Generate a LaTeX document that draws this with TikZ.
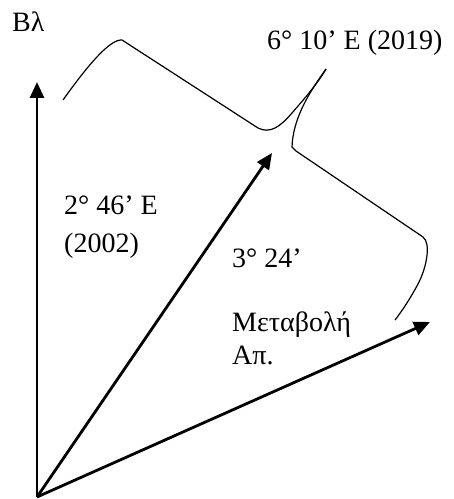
\documentclass[tikz,border=0pt]{standalone}
\usepackage{fontspec}
\setmainfont{Liberation Serif}
\usetikzlibrary{arrows.meta}

\begin{document}
\begin{tikzpicture}[x=1pt,y=1pt,>={Triangle[length=16pt,width=14pt]},
  vec/.style={->,line width=2.8pt},
  brace/.style={line width=1.2pt},
  lbl/.style={inner sep=0pt,anchor=west,align=left,
    font=\fontsize{28}{32}\selectfont}]
  \useasboundingbox (0,0) rectangle (454,499);
  % the three vectors from one origin
  \coordinate (o) at (37,2);
  \coordinate (north) at (37,417);
  \coordinate (decl) at (272,346);
  \coordinate (change) at (430,177);
  \draw[vec] (o) -- (north);
  \draw[vec] (o) -- (decl);
  \draw[vec] (o) -- (change);
  % braces
  \draw[brace] (63,399) .. controls (88,434) and (110,460) .. (122,459)
    -- (258,371) .. controls (270,365) and (280,372) .. (292,386)
    .. controls (305,401) and (318,416) .. (326,430);
  \draw[brace] (326,430) .. controls (308,405) and (293,380) .. (292,352)
    -- (296,348) -- (423,262) .. controls (431,256) and (427,232) .. (418,215)
    .. controls (410,200) and (402,188) .. (395,179);
  % labels
  \node[lbl] (bl) at (12,477) {Βλ};
  \node[lbl] (y2019) at (267,456) {6° 10’ E (2019)};
  \node[lbl] (y2002) at (64,272) {2° 46’ E\\[6pt](2002)};
  \node[lbl] (diff) at (232,241) {3° 24’};
  \node[lbl] (metab) at (232,161) {Μεταβολή\\[1pt]Απ.};
\end{tikzpicture}
\end{document}
